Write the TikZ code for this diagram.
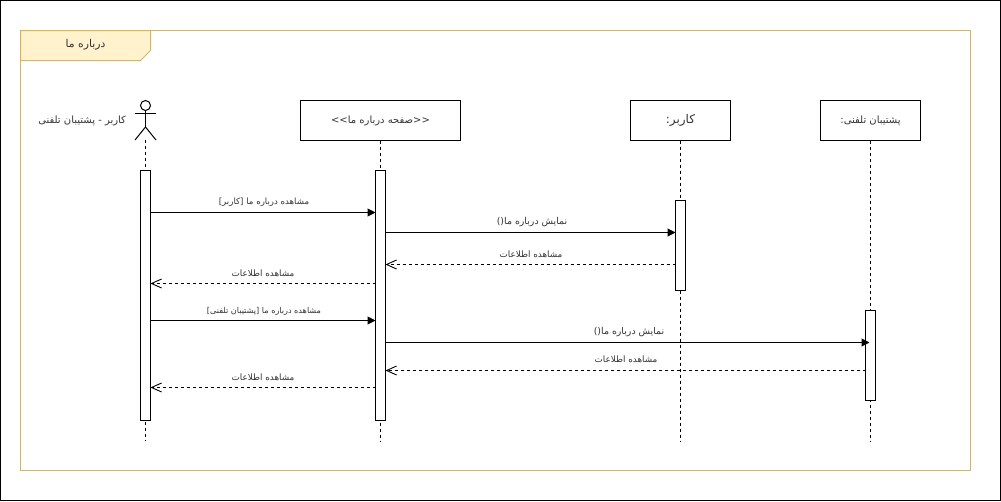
\documentclass[tikz,border=0pt]{standalone}
\usepackage{fontspec}
\usetikzlibrary{arrows.meta}
\TeXXeTstate=1
\newfontfamily\arabicfont[Script=Arabic]{DejaVu Sans}
\newcommand{\fa}[1]{{\arabicfont\beginR #1\endR}}
\definecolor{framegold}{HTML}{D6B656}
\definecolor{tabfill}{HTML}{FFF2CC}
\definecolor{txt}{HTML}{333333}
\tikzset{
  x=1pt,y=-1pt,
  every node/.style={inner sep=0pt,outer sep=0pt,text=txt},
  lifebox/.style={draw=black,line width=1pt,fill=white,minimum height=40pt,font=\fontsize{10}{12}\selectfont},
  activation/.style={draw=black,line width=1pt,fill=white,minimum width=10pt},
  lifeline/.style={draw=black,line width=1pt,dash pattern=on 3pt off 3pt},
  callmsg/.style={draw=black,line width=1pt,-{Triangle[length=8pt,width=8pt]}},
  replymsg/.style={draw=black,line width=0.9pt,dash pattern=on 3pt off 3pt,-{Straight Barb[length=10pt,width=9pt,line width=0.9pt]}},
  msglabel/.style={font=\fontsize{#1}{10}\selectfont},
  stick/.style={draw=black,line width=1pt}
}
\begin{document}
\begin{tikzpicture}
\useasboundingbox (0,0) rectangle (1001,501);
\draw[black,line width=1pt] (0.5,0.5) rectangle (1000.5,500.5);
% frame
\draw[framegold,line width=1pt] (20.5,30.5) rectangle (970.5,470.5);
\draw[framegold,line width=1pt,fill=tabfill] (20.5,30.5) -- (150.5,30.5) -- (150.5,50.5) -- (140.5,60.5) -- (20.5,60.5) -- cycle;
\node[font=\fontsize{10.8}{12}\selectfont] (frametitle) at (85.5,45) {\fa{درباره ما}};
% lifeline heads
\node[lifebox,minimum width=160pt] (page) at (380.5,120.5) {\fa{<<صفحه درباره ما>>}};
\node[lifebox,minimum width=100pt,font=\fontsize{12}{14}\selectfont] (user) at (680.5,120.5) {\fa{کاربر:}};
\node[lifebox,minimum width=100pt] (phone) at (870.5,120.5) {\fa{پشتیبان تلفنی:}};
% actor
\node[draw=black,line width=1pt,circle,minimum size=10pt,fill=white] (head) at (145.5,105.5) {};
\coordinate (neck) at (145.5,127);
\coordinate (foot) at (145.5,140);
\draw[stick] (head.south) -- (neck);
\draw[stick] (135,113.5) -- (156,113.5);
\draw[stick] (135,140) -- (neck) -- (156,140);
\node[anchor=east,font=\fontsize{10}{12}\selectfont] (actorlabel) at (126,121) {\fa{کاربر - پشتیبان تلفنی}};
% lifelines
\coordinate (e0) at (145.5,441);
\coordinate (e1) at (380.5,441);
\coordinate (e2) at (680.5,441);
\coordinate (e3) at (870.5,441);
\draw[lifeline] (foot) -- (e0);
\draw[lifeline] (page.south) -- (e1);
\draw[lifeline] (user.south) -- (e2);
\draw[lifeline] (phone.south) -- (e3);
% activations
\node[activation,minimum height=250pt] (a0) at (145.5,295.5) {};
\node[activation,minimum height=250pt] (a1) at (380.5,295.5) {};
\node[activation,minimum height=90pt] (a2) at (680.5,245.5) {};
\node[activation,minimum height=90pt] (a3) at (870.5,355.5) {};
% messages
\draw[callmsg] (a0.east |- 0,212.5) -- (a1.west |- 0,212.5);
\draw[callmsg] (a1.east |- 0,232.5) -- (a2.west |- 0,232.5);
\draw[replymsg] (a2.west |- 0,264.5) -- (a1.east |- 0,264.5);
\draw[replymsg] (a1.west |- 0,283.5) -- (a0.east |- 0,283.5);
\draw[callmsg] (a0.east |- 0,320.5) -- (a1.west |- 0,320.5);
\draw[callmsg] (a1.east |- 0,342.5) -- ([xshift=4pt]a3.west |- 0,342.5);
\draw[replymsg] (a3.west |- 0,370.5) -- (a1.east |- 0,370.5);
\draw[replymsg] (a1.west |- 0,387.5) -- (a0.east |- 0,387.5);
% labels
\node[msglabel=8.6] (m1) at (264,202.5) {\fa{مشاهده درباره ما [کاربر]}};
\node[msglabel=9.4] (m2) at (532,222.5) {\fa{نمایش درباره ما()}};
\node[msglabel=8.8] (m3) at (531,254.5) {\fa{مشاهده اطلاعات}};
\node[msglabel=8.8] (m4) at (263,273) {\fa{مشاهده اطلاعات}};
\node[msglabel=8.1] (m5) at (264,311) {\fa{مشاهده درباره ما [پشتیبان تلفنی]}};
\node[msglabel=9.4] (m6) at (629,332.5) {\fa{نمایش درباره ما()}};
\node[msglabel=8.8] (m7) at (626,359.5) {\fa{مشاهده اطلاعات}};
\node[msglabel=8.8] (m8) at (263,377) {\fa{مشاهده اطلاعات}};
\end{tikzpicture}
\end{document}
